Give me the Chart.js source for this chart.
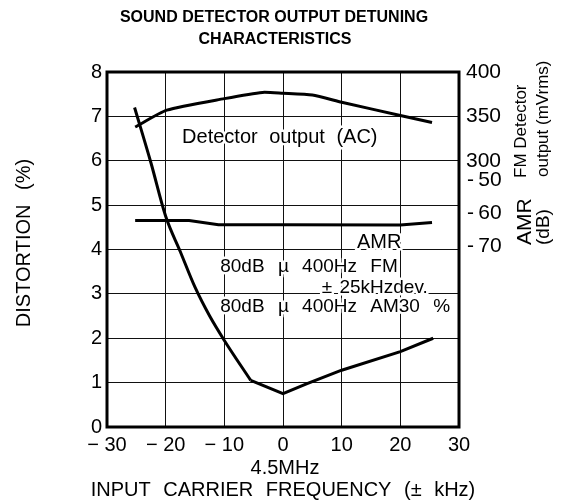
<!DOCTYPE html>
<html>
<head>
<meta charset="utf-8">
<title>Sound detector output detuning characteristics</title>
<script src="https://cdn.jsdelivr.net/npm/chart.js@4.4.1/dist/chart.umd.min.js"></script>
<style>
  html, body { margin: 0; padding: 0; background: #fff; }
  #wrap { width: 570px; height: 504px; }
</style>
</head>
<body>
<div id="wrap"><canvas id="detChart" width="570" height="504"></canvas></div>
<script>
/* ── 데이터 ── */
const xTicks    = [-30, -20, -10, 0, 10, 20, 30];
const distTicks = [0, 1, 2, 3, 4, 5, 6, 7, 8];
const mvTicks   = [300, 350, 400];
const amrTicks  = [-50, -60, -70];

// distortion (%) vs input carrier frequency (kHz)
const distFreq = [-25.3, -22.5, -20, -17.5, -15, -12.5, -10, -5.5, 0, 4, 10, 20, 25.6];
const distPct  = [7.2, 5.95, 4.75, 3.95, 3.15, 2.5, 1.95, 1.05, 0.75, 0.97, 1.28, 1.7, 2.0];
const distBend = 7;   // -5.5 kHz 에서 곡선 → 직선으로 바뀜

// FM detector output (mVrms)
const detFreq = [-25.2, -19.8, -10, -3.5, 0, 5, 10, 20, 25.4];
const detMv   = [338, 357, 370, 377, 376, 374, 366, 351, 343];

// AMR (dB)
const amrFreq = [-25.2, -16, -11, 0, 20, 25.4];
const amrDb   = [-62.1, -62.1, -63.4, -63.4, -63.5, -62.7];

const FONT = "'Liberation Sans', Arial, sans-serif";

const toXY = (xs, ys) => xs.map((x, i) => ({ x, y: ys[i] }));
const fixTicks = arr => scale => { scale.ticks = arr.map(v => ({ value: v })); };

/* ── 텍스트 그리기 도우미 ── */
function drawText(ctx, text, x, y, o = {}) {
  ctx.save();
  ctx.font = `${o.weight || 'normal'} ${o.size || 20}px ${FONT}`;
  ctx.fillStyle = '#000';
  ctx.textAlign = o.align || 'left';
  ctx.textBaseline = 'middle';
  if ('wordSpacing' in ctx) ctx.wordSpacing = (o.ws || 0) + 'px';
  ctx.translate(x, y);
  if (o.rotate) ctx.rotate(o.rotate);
  if (o.halo) {
    ctx.strokeStyle = '#fff';
    ctx.lineWidth = 5;
    ctx.lineJoin = 'round';
    ctx.strokeText(text, 0, 0);
  }
  ctx.fillText(text, 0, 0);
  ctx.restore();
}

/* ── 그래프 안의 주석 (x: kHz, y: distortion 눈금) ── */
const notes = [
  { text: 'Detector output (AC)',  x: -17.2, y: 6.53, size: 20, ws: 6 },
  { text: 'AMR',                   x: 12.6,  y: 4.15, size: 20, ws: 0 },
  { text: '80dB µ 400Hz FM',       x: -10.7, y: 3.6,  size: 19, ws: 8 },
  { text: '± 25kHzdev.',           x: 6.6,   y: 3.13, size: 19, ws: 2 },
  { text: '80dB µ 400Hz AM30 %',   x: -10.7, y: 2.7,  size: 19, ws: 8 },
];

const sheetText = {
  id: 'sheetText',
  afterDatasetsDraw(chart) {
    const { ctx, scales: { x, y } } = chart;
    notes.forEach(n => drawText(ctx, n.text, x.getPixelForValue(n.x), y.getPixelForValue(n.y),
      { size: n.size, ws: n.ws, halo: true }));
  },
  afterDraw(chart) {
    const { ctx, chartArea: a, scales } = chart;
    // 테두리
    ctx.save();
    ctx.strokeStyle = '#000';
    ctx.lineWidth = 3;
    ctx.strokeRect(a.left, a.top, a.right - a.left, a.bottom - a.top);
    ctx.restore();

    // 제목
    drawText(ctx, 'SOUND DETECTOR OUTPUT DETUNING', 274, 18, { size: 16, weight: 'bold', align: 'center' });
    drawText(ctx, 'CHARACTERISTICS', 275, 40, { size: 16, weight: 'bold', align: 'center' });

    // AMR 눈금 라벨
    amrTicks.forEach(v => drawText(ctx, '-\u2009' + Math.abs(v), a.right + 8,
      scales.yA.getPixelForValue(v), { size: 21 }));

    const up = -Math.PI / 2;
    drawText(ctx, 'DISTORTION (%)', 24, 243, { size: 20, ws: 9, align: 'center', rotate: up });
    drawText(ctx, 'FM Detector', 521, 178, { size: 17, rotate: up });
    drawText(ctx, 'output (mVrms)', 543, 177, { size: 17, rotate: up });
    drawText(ctx, 'AMR', 525, 245, { size: 21, rotate: up });
    drawText(ctx, '(dB)', 544, 245, { size: 19, rotate: up });

    drawText(ctx, '4.5MHz', scales.x.getPixelForValue(0) + 2, 468, { size: 20, align: 'center' });
    drawText(ctx, 'INPUT CARRIER FREQUENCY (± kHz)', 283, 490, { size: 20, ws: 7, align: 'center' });
  }
};

const lineDs = (data, axis, extra = {}) => Object.assign({
  data, yAxisID: axis,
  borderColor: '#000', borderWidth: 3,
  pointRadius: 0, tension: 0, fill: false,
}, extra);

const tickFont = size => ({ family: FONT, size });
const distXY = toXY(distFreq, distPct);

new Chart(document.getElementById('detChart'), {
  type: 'line',
  data: {
    datasets: [
      lineDs(distXY.slice(0, distBend + 1), 'y', { cubicInterpolationMode: 'monotone' }),
      lineDs(distXY.slice(distBend), 'y'),
      lineDs(toXY(detFreq, detMv), 'yR', { tension: 0.2 }),
      lineDs(toXY(amrFreq, amrDb), 'yA'),
    ],
  },
  options: {
    responsive: false,
    animation: false,
    layout: { padding: { top: 72 } },
    plugins: {
      legend: { display: false },
      tooltip: { enabled: false },
      title: { display: false },
    },
    scales: {
      x: {
        type: 'linear', min: -30, max: 30,
        afterBuildTicks: fixTicks(xTicks),
        afterFit: s => { s.height = 77; },
        grid: { color: '#111', lineWidth: 1, drawTicks: false },
        border: { display: false },
        ticks: {
          color: '#000', font: tickFont(20), padding: 6, maxRotation: 0,
          callback: v => v < 0 ? '\u2212 ' + Math.abs(v) : String(v),
        },
      },
      y: {
        min: 0, max: 8,
        afterBuildTicks: fixTicks(distTicks),
        afterFit: s => { s.width = 107; },
        grid: { color: '#111', lineWidth: 1, drawTicks: false },
        border: { display: false },
        ticks: { color: '#000', font: tickFont(20), padding: 5 },
      },
      yR: {
        position: 'right', min: 0, max: 400,
        afterBuildTicks: fixTicks(mvTicks),
        afterFit: s => { s.width = 111; },
        grid: { display: false, drawTicks: false },
        border: { display: false },
        ticks: { color: '#000', font: tickFont(21), padding: 7 },
      },
      yA: {
        display: false, min: -124.6, max: -17.2,
      },
    },
  },
  plugins: [sheetText],
});
</script>
</body>
</html>
